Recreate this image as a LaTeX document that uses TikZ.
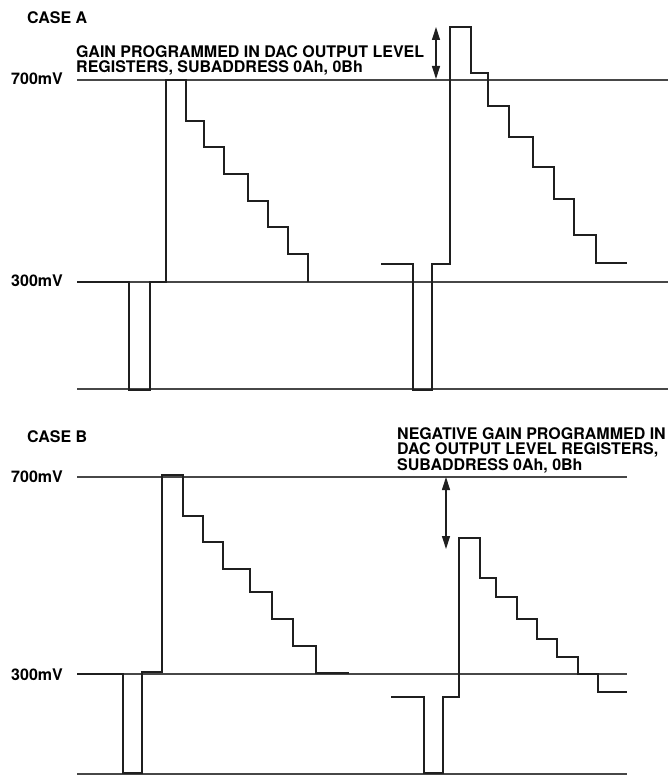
\documentclass[tikz,border=0pt]{standalone}
\usepackage{fontspec}
\setmainfont{TeX Gyre Heros}
\usetikzlibrary{arrows.meta}
\begin{document}
\begin{tikzpicture}[x=1pt,y=-1pt,
  wave/.style={line width=2.4pt, draw=black!88, line join=miter},
  refline/.style={line width=1.1pt, draw=black!72},
  lbl/.style={font=\bfseries\fontsize{16}{18}\selectfont, inner sep=0pt},
  gainarrow/.style={line width=1.2pt, draw=black!88, {Triangle[length=13pt,width=8pt]}-{Triangle[length=13pt,width=8pt]}}]
\useasboundingbox (0,0) rectangle (668,775);
% ---------------- CASE A ----------------
\node[lbl, anchor=base west] (caseA) at (27,24) {CASE A};
\node[lbl, anchor=base west] (gainA1) at (76,58) {GAIN PROGRAMMED IN DAC OUTPUT LEVEL};
\node[lbl, anchor=base west] (gainA2) at (76,73) {REGISTERS, SUBADDRESS 0Ah, 0Bh};
\node[lbl, anchor=base east] (a700) at (63,85) {700mV};
\node[lbl, anchor=base east] (a300) at (63,287) {300mV};
\draw[refline] (77,80) -- (668,80);
\draw[refline] (77,282) -- (668,282);
\draw[refline] (77,389) -- (668,389);
\draw[wave] (77,282) -- (129,282) -- (129,390) -- (150,390) -- (150,282) -- (166,282)
  -- (166,80) -- (186,80) -- (186,121) -- (204,121) -- (204,147) -- (224,147)
  -- (224,174) -- (248,174) -- (248,201) -- (268,201) -- (268,227) -- (288,227)
  -- (288,254) -- (308,254) -- (308,282);
\draw[wave] (381,264) -- (413,264) -- (413,390) -- (432,390) -- (432,264) -- (450,264)
  -- (450,27) -- (471,27) -- (471,73) -- (488,73) -- (488,106) -- (509,106)
  -- (509,137) -- (533,137) -- (533,167) -- (554,167) -- (554,199) -- (574,199)
  -- (574,235) -- (596,235) -- (596,263) -- (627,263);
\coordinate (aTop) at (436,27);
\coordinate (aBot) at (436,79);
\draw[gainarrow] (aTop) -- (aBot);
% ---------------- CASE B ----------------
\node[lbl, anchor=base west] (caseB) at (27,442) {CASE B};
\node[lbl, anchor=base west] (gainB1) at (397,439) {NEGATIVE GAIN PROGRAMMED IN};
\node[lbl, anchor=base west] (gainB2) at (397,454.5) {DAC OUTPUT LEVEL REGISTERS,};
\node[lbl, anchor=base west] (gainB3) at (397,470) {SUBADDRESS 0Ah, 0Bh};
\node[lbl, anchor=base east] (b700) at (63,482) {700mV};
\node[lbl, anchor=base east] (b300) at (63,680) {300mV};
\draw[refline] (77,477) -- (627,477);
\draw[refline] (77,674) -- (627,674);
\draw[refline] (77,774) -- (627,774);
\draw[wave] (77,674) -- (123,674) -- (123,773) -- (142,773) -- (142,672) -- (162,672)
  -- (162,475) -- (183,475) -- (183,516) -- (203,516) -- (203,542) -- (223,542)
  -- (223,569) -- (250,569) -- (250,592) -- (272,592) -- (272,619) -- (293,619)
  -- (293,646) -- (316,646) -- (316,673) -- (349,673);
\draw[wave] (391,697) -- (424,697) -- (424,773) -- (443,773) -- (443,697) -- (459,697)
  -- (459,538) -- (480,538) -- (480,578) -- (496,578) -- (496,597) -- (517,597)
  -- (517,619) -- (537,619) -- (537,639) -- (557,639) -- (557,657) -- (578,657)
  -- (578,674) -- (598,674) -- (598,692) -- (627,692);
\coordinate (bTop) at (446,477);
\coordinate (bBot) at (446,549);
\draw[gainarrow] (bTop) -- (bBot);
\end{tikzpicture}
\end{document}
